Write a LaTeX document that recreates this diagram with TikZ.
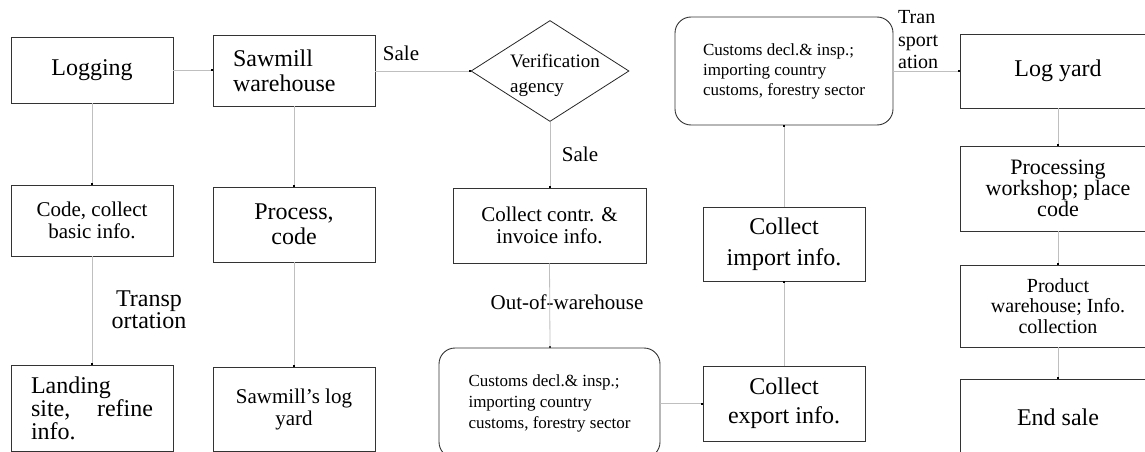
\documentclass[tikz,border=0pt]{standalone}
\usepackage{fontspec}
\setmainfont{Liberation Serif}
\usetikzlibrary{shapes.geometric}
\usetikzlibrary{arrows.meta}

\begin{document}
\begin{tikzpicture}[x=1pt,y=-1pt]
\tikzset{block/.style={rectangle, draw=black!80, line width=0.9pt, inner sep=2pt, align=center}}
\tikzset{roundblock/.style={block, rounded corners=16pt, align=left}}
\tikzset{check/.style={diamond, draw=black!85, line width=0.8pt, inner sep=0pt}}
\tikzset{link/.style={draw=black!25, line width=0.8pt, -{Rectangle[length=1.2pt,width=1.6pt,color=black]}}}
\tikzset{tag/.style={inner sep=0pt, align=center}}
\tikzset{big/.style={font=\fontsize{24}{24}\selectfont}}
\tikzset{mid/.style={font=\fontsize{21}{22}\selectfont}}
\useasboundingbox (0,0) rectangle (1145,452);
\clip (0,0) rectangle (1145,452);
% first column
\node[block, big, minimum width=162pt, minimum height=66pt] (logging) at (92,70) {Logging};
\node[block, mid, minimum width=162pt, minimum height=71pt] (code) at (92,220.5) {Code, collect\\basic info.};
\node[block, big, font=\fontsize{24}{23}\selectfont, minimum width=162pt, minimum height=86pt, text width=122pt, align=left] (landing) at (92,408) {Landing\\site,\hfill refine\\info.};
% second column
\node[block, big, font=\fontsize{24}{25}\selectfont, minimum width=162pt, minimum height=71pt, text width=122pt, align=left] (sawmill) at (294,70.5) {Sawmill\\warehouse};
\node[block, big, font=\fontsize{24}{25}\selectfont, minimum width=162pt, minimum height=75pt] (process) at (294,224.5) {Process,\\code};
\node[block, mid, minimum width=162pt, minimum height=84pt] (sawlog) at (294,409) {Sawmill’s log\\yard};
% verification and export
\node[check, minimum width=158pt, minimum height=101pt] (verify) at (550,71) {};
\node[tag, font=\fontsize{19}{25}\selectfont, align=left] (verifytxt) at (555,75) {Verification\\agency};
\node[block, mid, minimum width=193pt, minimum height=75pt] (contr) at (549.5,225.5) {Collect contr. \&\\invoice info.};
\node[roundblock, font=\fontsize{17}{21}\selectfont, minimum width=221pt, minimum height=110pt] (customsB) at (549.5,403) {Customs decl.\& insp.;\\importing country\\customs, forestry sector};
% import side
\node[roundblock, font=\fontsize{17}{20}\selectfont, minimum width=218pt, minimum height=108pt] (customsT) at (784,71) {Customs decl.\& insp.;\\importing country\\customs, forestry sector};
\node[block, font=\fontsize{24}{31}\selectfont, minimum width=162pt, minimum height=74pt] (imp) at (784,244) {Collect\\import info.};
\node[block, font=\fontsize{24}{29}\selectfont, minimum width=162pt, minimum height=75pt] (exp) at (784,403.5) {Collect\\export info.};
% last column
\node[block, big, minimum width=196pt, minimum height=74pt] (logyard) at (1058,71) {Log yard};
\node[block, font=\fontsize{22}{21}\selectfont, minimum width=196pt, minimum height=85pt] (procws) at (1058,188.5) {Processing\\workshop; place\\code};
\node[block, font=\fontsize{20}{20.5}\selectfont, minimum width=196pt, minimum height=82pt] (prodwh) at (1058,306) {Product\\warehouse; Info.\\collection};
\node[block, big, minimum width=196pt, minimum height=76pt] (endsale) at (1058,417) {End sale};
% labels
\node[tag, mid] (sale1) at (401,53) {Sale};
\node[tag, mid] (sale2) at (580,154) {Sale};
\node[tag, font=\fontsize{24}{20}\selectfont] (transp1) at (149,310) {Transp\\ortation};
\node[tag, mid] (outwh) at (567,302) {Out-of-warehouse};
\node[tag, font=\fontsize{20}{22.5}\selectfont, align=left, anchor=west] (transp2) at (898,40) {Tran\\sport\\ation};
% connectors
\draw[link] (logging.east) -- (sawmill.west |- logging.east);
\draw[link] (sawmill.east |- verify.west) -- (verify.west);
\draw[link] (verify.south) -- (contr.north -| verify.south);
\draw[link] (logging.south) -- (code.north);
\draw[link] (code.south) -- (landing.north);
\draw[link] (sawmill.south) -- (process.north);
\draw[link] (process.south) -- (sawlog.north);
\draw[link] (contr.north |- contr.south) -- (customsB.north -| verify.south);
\draw[link] (customsB.east |- exp.west) -- (exp.west);
\draw[link] (exp.north) -- (imp.south);
\draw[link] (imp.north) -- (customsT.south);
\draw[link] (customsT.east) -- (logyard.west);
\draw[link] (logyard.south) -- (procws.north);
\draw[link] (procws.south) -- (prodwh.north);
\draw[link] (prodwh.south) -- (endsale.north);
\end{tikzpicture}
\end{document}
